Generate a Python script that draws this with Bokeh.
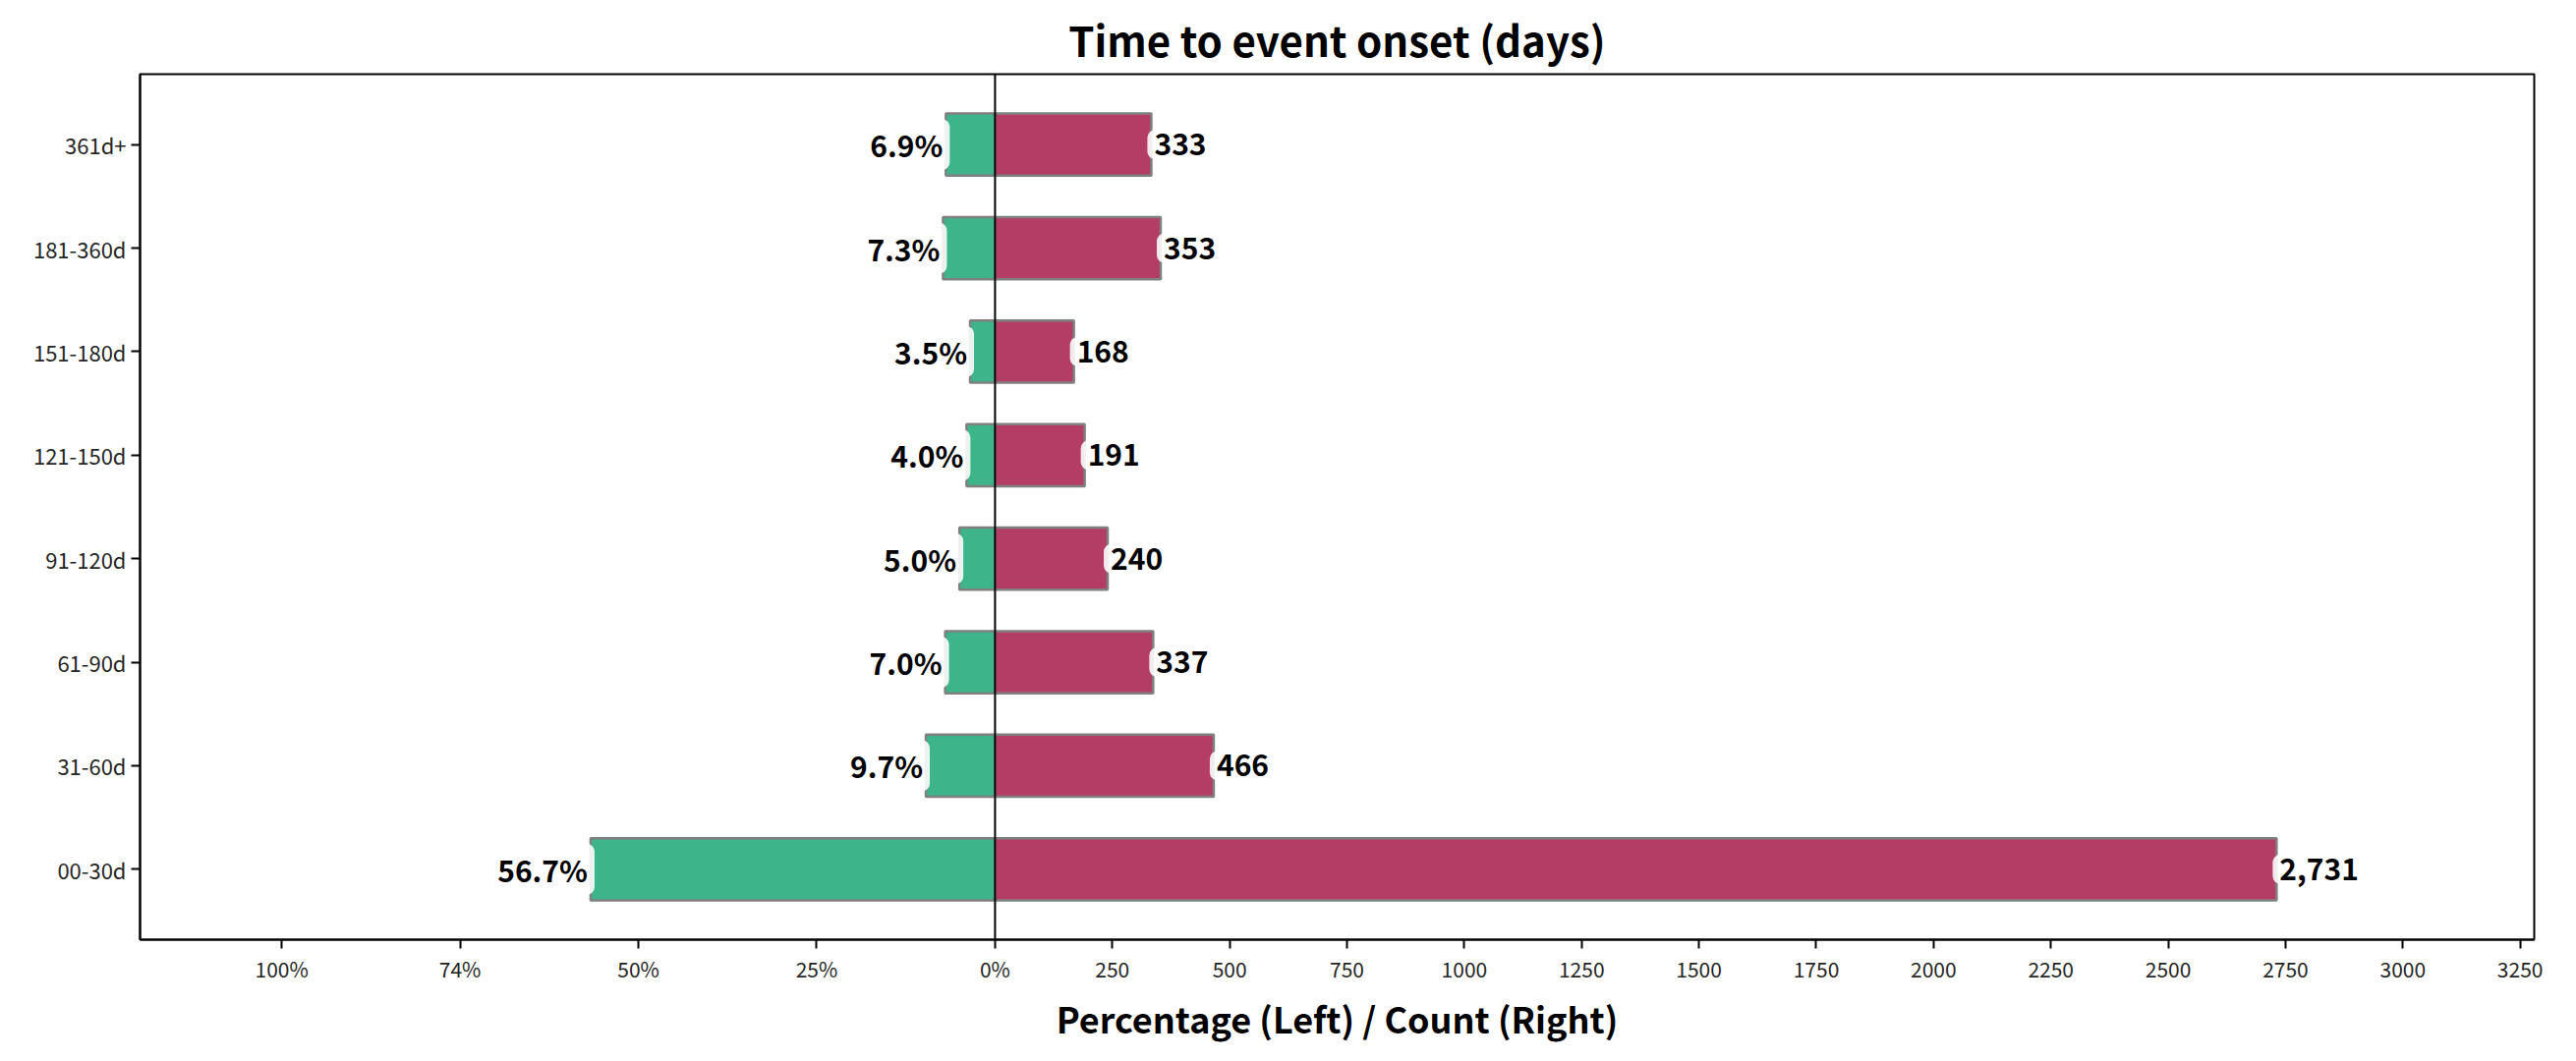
from bokeh.plotting import figure
from bokeh.models import ColumnDataSource, Range1d, FixedTicker, Span
from bokeh.core.properties import value
from bokeh.embed import file_html
from bokeh.resources import INLINE

# ---- data ----
categories = ["00-30d", "31-60d", "61-90d", "91-120d", "121-150d", "151-180d", "181-360d", "361d+"]
counts = [2731, 466, 337, 240, 191, 168, 353, 333]
percents = [56.7, 9.7, 7.0, 5.0, 4.0, 3.5, 7.3, 6.9]
pct_ticks = [100, 75, 50, 25, 0]
pct_tick_labels = ["100%", "74%", "50%", "25%", "0%"]
count_ticks = [250, 500, 750, 1000, 1250, 1500, 1750, 2000, 2250, 2500, 2750, 3000, 3250]

PCT_SCALE = 15.2  # counts-axis units per percent on the left side
FONT = "Noto Sans CJK JP"

ypos = list(range(len(categories)))
left_vals = [-p * PCT_SCALE for p in percents]
src = ColumnDataSource(dict(
    y=ypos,
    left=left_vals,
    count=counts,
    pct_lab=[f"{p:.1f}%" for p in percents],
    cnt_lab=[f"{c:,}" for c in counts],
))

p = figure(width=2605, height=1064, output_backend="svg", toolbar_location=None,
           x_range=Range1d(-1822, 3280), y_range=Range1d(-0.68, 7.68),
           min_border_left=142, min_border_right=27, min_border_top=75, min_border_bottom=102,
           title="Time to event onset (days)")

p.hbar(y="y", left="left", right=0, height=0.6, source=src,
       fill_color="#3db489", line_color="#808080", line_width=2.5)
p.hbar(y="y", left=0, right="count", height=0.6, source=src,
       fill_color="#b33d64", line_color="#808080", line_width=2.5)

common = dict(text_font=value(FONT), text_font_size="30px", text_font_style="bold",
              text_color="black", text_baseline="middle",
              background_fill_color="white", background_fill_alpha=0.88,
              border_radius=8, padding=(7, 4))
p.text(x="left", y="y", text="pct_lab", source=src, text_align="right", x_offset=4, **common)
p.text(x="count", y="y", text="cnt_lab", source=src, text_align="left", x_offset=-4, **common)

p.add_layout(Span(location=0, dimension="height", line_color="black", line_width=2))

# axes
xt = [-t * PCT_SCALE for t in pct_ticks] + count_ticks
p.xaxis.ticker = FixedTicker(ticks=xt)
overrides = {}
for t, lab in zip(pct_ticks, pct_tick_labels):
    overrides[-t * PCT_SCALE if t else 0] = lab
for t in count_ticks:
    overrides[t] = str(t)
p.xaxis.major_label_overrides = overrides
p.yaxis.ticker = FixedTicker(ticks=ypos)
p.yaxis.major_label_overrides = {i: c for i, c in enumerate(categories)}

for ax in (p.xaxis, p.yaxis):
    ax.major_label_text_font = FONT
    ax.major_label_text_font_size = "21px"
    ax.major_label_text_color = "#262626"
    ax.axis_line_color = "black"
    ax.axis_line_width = 2
    ax.major_tick_line_color = "black"
    ax.major_tick_line_width = 2
    ax.major_tick_out = 9
    ax.major_tick_in = 0
    ax.minor_tick_line_color = None
    ax.major_label_standoff = 5
p.yaxis.major_label_text_font_size = "22px"

p.xaxis.axis_label = "Percentage (Left) / Count (Right)"
p.xaxis.axis_label_text_font = FONT
p.xaxis.axis_label_text_font_size = "36px"
p.xaxis.axis_label_text_font_style = "bold"
p.xaxis.axis_label_text_color = "black"
p.xaxis.axis_label_standoff = 6

p.title.text_font = FONT
p.title.text_font_size = "42px"
p.title.text_font_style = "bold"
p.title.align = "center"
p.title.text_color = "black"
p.title.standoff = 12

p.xgrid.grid_line_color = None
p.ygrid.grid_line_color = None
p.outline_line_color = "black"
p.outline_line_width = 2
p.background_fill_color = "white"
p.border_fill_color = "white"

open("out.html", "w").write(file_html(p, INLINE))
